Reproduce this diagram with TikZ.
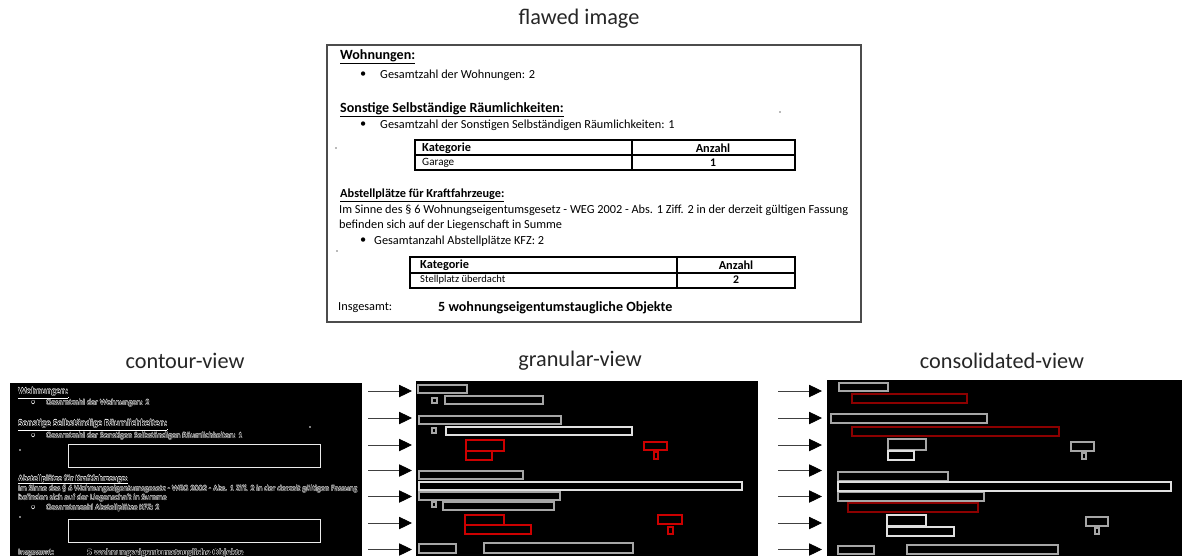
\documentclass[tikz,border=0pt]{standalone}
\usepackage{fontspec}
\setmainfont{Carlito}
\usetikzlibrary{arrows.meta}

% white outline of a text, for the contour view
\newcommand\outlined[1]{\rlap{\color{white}\kern-.3pt#1}\rlap{\color{white}\kern.3pt#1}%
  \rlap{\color{white}\raisebox{.3pt}{#1}}\rlap{\color{white}\raisebox{-.3pt}{#1}}#1}

\begin{document}
\begin{tikzpicture}[
  x=0.03cm, y=-0.03cm,
  lbl/.style={font=\fontsize{19}{22}\selectfont, text=black!85},
  docbox/.style={draw=black!70, line width=1.2pt},
  tab/.style={draw=black, line width=0.9pt},
  body/.style={font=\fontsize{10.5}{12}\selectfont, anchor=west, inner sep=0pt},
  head/.style={font=\fontsize{12}{14}\selectfont\bfseries, anchor=west, inner sep=0pt},
  cbody/.style={font=\fontsize{7}{8}\selectfont, text=black, anchor=west, inner sep=0pt},
  chead/.style={font=\fontsize{8}{9}\selectfont\bfseries, text=black, anchor=west, inner sep=0pt},
  crect/.style={draw=black!8, line width=0.7pt},
  speck/.style={fill=black!55},
  gline/.style={draw=black!35, line width=1pt},
  wline/.style={draw=black!12, line width=1pt},
  rline/.style={draw=red!80!black, line width=1pt},
  dline/.style={draw=red!55!black, line width=1pt},
  arr/.style={-{Triangle[length=11pt, width=10.5pt, color=black]}, draw=black!75, line width=0.7pt}
]
\useasboundingbox (0,0) rectangle (1184,556);

% Titles
\node[lbl] (tflawed) at (579,19) {flawed image};
\node[lbl] (tcontour) at (185,361) {contour-view};
\node[lbl] (tgranular) at (580,361) {granular-view};
\node[lbl] (tconsol) at (1002,361) {consolidated-view};

% Flawed image
\draw[docbox] (327,45) rectangle (861,322);
\node[head] (h1) at (340,57) {\underline{Wohnungen:}};
\node[body] (b1) at (360,75) {•};
\node[body] (t1) at (380,75) {Gesamtzahl der Wohnungen: 2};
\node[head] (h2) at (340,110) {\underline{Sonstige Selbständige Räumlichkeiten:}};
\node[body] (b2) at (360,125) {•};
\node[body] (t2) at (380,125) {Gesamtzahl der Sonstigen Selbständigen Räumlichkeiten: 1};
\draw[tab] (415,140) rectangle (795,170) (415,155) -- (795,155) (632,140) -- (632,170);
\node[body, font=\fontsize{10.5}{12}\selectfont\bfseries] (k1) at (422,148) {Kategorie};
\node[font=\fontsize{10.5}{12}\selectfont\bfseries] (a1) at (713,148) {Anzahl};
\node[body, font=\fontsize{9.5}{11}\selectfont] (g1) at (422,163) {Garage};
\node[font=\fontsize{10}{12}\selectfont\bfseries] (n1) at (713,163) {1};
\node[body, font=\fontsize{10.5}{12}\selectfont\bfseries] (h3) at (340,195) {\underline{Abstellplätze für Kraftfahrzeuge:}};
\node[body] (t3) at (339,210) {Im Sinne des § 6 Wohnungseigentumsgesetz - WEG 2002 - Abs. 1 Ziff. 2 in der derzeit gültigen Fassung};
\node[body] (t4) at (339,225) {befinden sich auf der Liegenschaft in Summe};
\node[body] (b3) at (360,241) {•};
\node[body] (t5) at (374,241) {Gesamtanzahl Abstellplätze KFZ: 2};
\draw[tab] (410,257) rectangle (795,288) (410,273) -- (795,273) (677,257) -- (677,288);
\node[body, font=\fontsize{10.5}{12}\selectfont\bfseries] (k2) at (420,265) {Kategorie};
\node[font=\fontsize{10.5}{12}\selectfont\bfseries] (a2) at (736,265) {Anzahl};
\node[body, font=\fontsize{9}{11}\selectfont] (g2) at (420,280) {Stellplatz überdacht};
\node[font=\fontsize{10}{12}\selectfont\bfseries] (n2) at (736,280) {2};
\node[body] (t6) at (338,308) {Insgesamt:};
\node[head] (t7) at (438,308) {5 wohnungseigentumstaugliche Objekte};
\fill[speck] (336,148) circle (0.8) (780,112) circle (0.8) (337,251) circle (0.8);

% Panels
\fill[black] (10,383) rectangle (362,556);
\fill[black] (416,381) rectangle (758,556);
\fill[black] (827,380) rectangle (1182,556);

% Contour view
\node[chead] (ch1) at (18,393) {\outlined{\underline{Wohnungen:}}};
\node[cbody] (cb1) at (31,403) {\outlined{•}};
\node[cbody] (ct1) at (46,403) {\outlined{Gesamtzahl der Wohnungen: 2}};
\node[chead] (ch2) at (18,425) {\outlined{\underline{Sonstige Selbständige Räumlichkeiten:}}};
\node[cbody] (cb2) at (31,436) {\outlined{•}};
\node[cbody] (ct2) at (46,436) {\outlined{Gesamtzahl der Sonstigen Selbständigen Räumlichkeiten: 1}};
\draw[crect] (68,444) rectangle (320,467);
\node[cbody, font=\fontsize{7}{8}\selectfont\bfseries] (ch3) at (18,480) {\outlined{\underline{Abstellplätze für Kraftfahrzeuge:}}};
\node[cbody] (ct3) at (18,489) {\outlined{Im Sinne des § 6 Wohnungseigentumsgesetz - WEG 2002 - Abs. 1 Ziff. 2 in der derzeit gültigen Fassung}};
\node[cbody] (ct4) at (18,498) {\outlined{befinden sich auf der Liegenschaft in Summe}};
\node[cbody] (cb3) at (31,508) {\outlined{•}};
\node[cbody] (ct5) at (46,508) {\outlined{Gesamtanzahl Abstellplätze KFZ: 2}};
\draw[crect] (68,519) rectangle (320,542);
\node[cbody] (ct6) at (18,553) {\outlined{Insgesamt:}};
\node[chead] (ct7) at (87,553) {\outlined{5 wohnungseigentumstaugliche Objekte}};
\fill[white] (310,427) circle (0.8) (20,450) circle (0.8) (20,495) circle (0.8) (20,517) circle (0.8);

% Granular view
\draw[gline] (418,385) rectangle (467,393) (432,398) rectangle (437,403) (445,396) rectangle (543,404)
  (419,416) rectangle (561,424) (432,428) rectangle (436,433) (419,471) rectangle (523,479)
  (419,492) rectangle (560,500) (432,502) rectangle (436,507) (443,502) rectangle (554,510)
  (419,544) rectangle (456,553) (484,543) rectangle (633,553);
\draw[wline] (446,427) rectangle (632,435) (419,482) rectangle (742,490);
\draw[rline] (466,440) rectangle (504,451) (466,451) rectangle (492,460) (644,442) rectangle (667,450)
  (654,452) rectangle (658,459) (465,515) rectangle (504,525) (465,525) rectangle (531,534)
  (658,515) rectangle (682,524) (668,527) rectangle (673,534);

% Consolidated view
\draw[gline] (839,383) rectangle (888,391) (831,414) rectangle (987,423) (888,439) rectangle (926,450)
  (1071,442) rectangle (1094,451) (1082,453) rectangle (1086,459) (838,472) rectangle (948,481)
  (838,492) rectangle (984,501) (1086,517) rectangle (1108,526) (1095,528) rectangle (1099,534)
  (838,546) rectangle (874,554) (907,545) rectangle (1058,554);
\draw[wline] (888,451) rectangle (914,460) (838,482) rectangle (1171,491)
  (887,515) rectangle (926,526) (887,527) rectangle (954,536);
\draw[dline] (852,394) rectangle (967,403) (852,427) rectangle (1059,436) (848,503) rectangle (978,512);

% Arrows
\foreach \y [count=\i] in {391,418,445,470.5,496.5,523,549.5} {
  \coordinate (cs\i) at (368,\y);
  \coordinate (ge\i) at (412,\y);
  \coordinate (gs\i) at (778,\y);
  \coordinate (oe\i) at (822,\y);
  \draw[arr] (cs\i) -- (ge\i);
  \draw[arr] (gs\i) -- (oe\i);
}

\end{tikzpicture}
\end{document}
